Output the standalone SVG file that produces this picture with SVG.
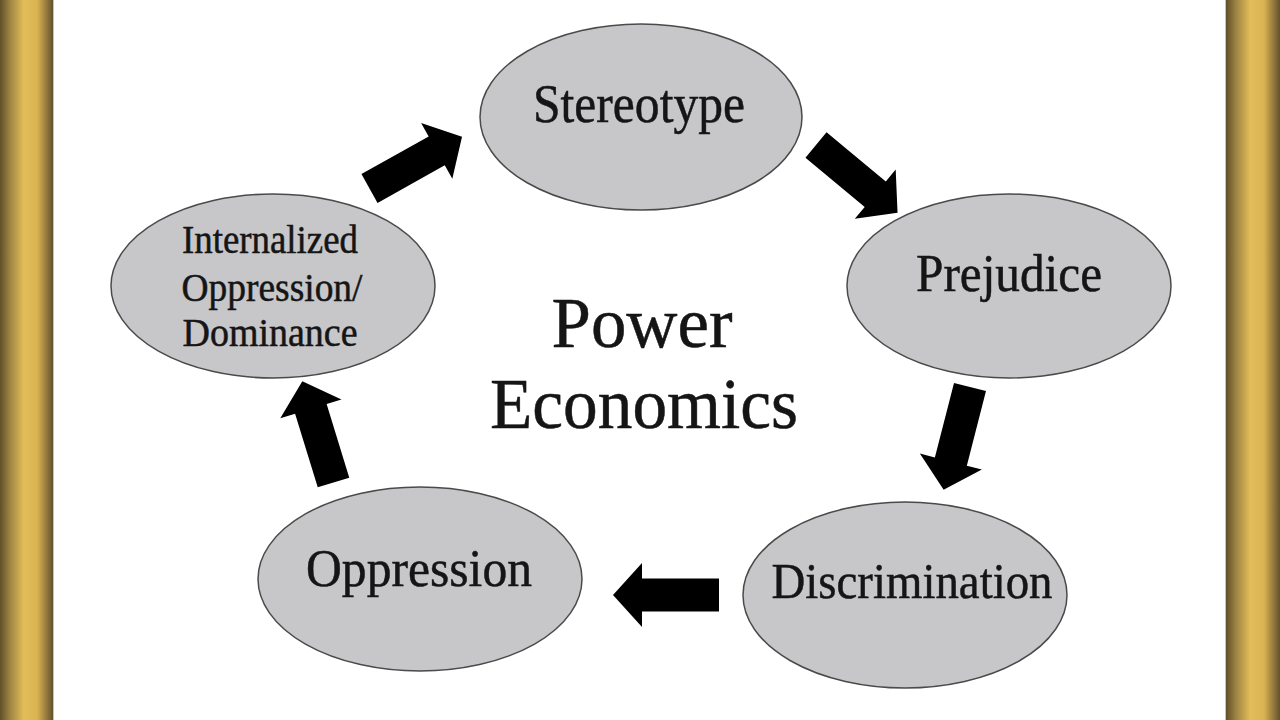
<svg xmlns="http://www.w3.org/2000/svg" width="1280" height="720" viewBox="0 0 1280 720">
<defs>
<linearGradient id="gold" x1="0" y1="0" x2="1" y2="0">
<stop offset="0" stop-color="#5f4f29"/>
<stop offset="0.18" stop-color="#9c8242"/>
<stop offset="0.45" stop-color="#e2bd58"/>
<stop offset="0.7" stop-color="#dbb452"/>
<stop offset="0.9" stop-color="#8c723a"/>
<stop offset="1" stop-color="#62522b"/>
</linearGradient>
<polygon id="arr" points="0,-16.5 77,-16.5 77,-32 106,0 77,32 77,16.5 0,16.5"/>
<style>
.node{fill:#c7c7c9;stroke:#4a4a4a;stroke-width:1.5}
.lbl{font-family:"Liberation Serif","Times New Roman",serif;fill:#151515;stroke:#151515;stroke-width:0.5;text-anchor:middle}
.arrow{fill:#000}
</style>
</defs>
<rect x="0" y="0" width="1280" height="720" fill="#ffffff"/>
<g id="frame">
<rect x="0" y="0" width="53" height="720" fill="url(#gold)"/>
<rect x="1226" y="0" width="54" height="720" fill="url(#gold)"/>
<line x1="53.5" y1="0" x2="53.5" y2="720" stroke="#c8c4b8" stroke-width="1"/>
<line x1="1225.5" y1="0" x2="1225.5" y2="720" stroke="#c8c4b8" stroke-width="1"/>
</g>
<g id="connectors" class="arrow">
<use href="#arr" transform="translate(369.5,188.5) rotate(-29.2)"/>
<use href="#arr" transform="translate(816,145) rotate(39.7)"/>
<use href="#arr" transform="translate(970,387) rotate(104.4)"/>
<use href="#arr" transform="translate(719,595) rotate(180)"/>
<use href="#arr" transform="translate(333.5,482.5) rotate(-107.1)"/>
</g>
<g id="stereotype">
<ellipse class="node" cx="641" cy="117" rx="161" ry="93"/>
<text class="lbl" x="639" y="122" font-size="54" textLength="212" lengthAdjust="spacingAndGlyphs">Stereotype</text>
</g>
<g id="prejudice">
<ellipse class="node" cx="1009" cy="286" rx="162" ry="92"/>
<text class="lbl" x="1009" y="291" font-size="53" textLength="186" lengthAdjust="spacingAndGlyphs">Prejudice</text>
</g>
<g id="discrimination">
<ellipse class="node" cx="905" cy="595" rx="162" ry="93"/>
<text class="lbl" x="912" y="598" font-size="51" textLength="281" lengthAdjust="spacingAndGlyphs">Discrimination</text>
</g>
<g id="oppression">
<ellipse class="node" cx="420" cy="579" rx="162" ry="92"/>
<text class="lbl" x="419" y="586" font-size="52" textLength="226" lengthAdjust="spacingAndGlyphs">Oppression</text>
</g>
<g id="internalized">
<ellipse class="node" cx="273" cy="286" rx="162" ry="92"/>
<text class="lbl" x="270" y="253" font-size="39" textLength="176" lengthAdjust="spacingAndGlyphs">Internalized</text>
<text class="lbl" x="272" y="301" font-size="39" textLength="181" lengthAdjust="spacingAndGlyphs">Oppression/</text>
<text class="lbl" x="270" y="346" font-size="39" textLength="175" lengthAdjust="spacingAndGlyphs">Dominance</text>
</g>
<g id="center">
<text class="lbl" x="642" y="347" font-size="72" textLength="181" lengthAdjust="spacingAndGlyphs">Power</text>
<text class="lbl" x="644" y="428" font-size="71" textLength="308" lengthAdjust="spacingAndGlyphs">Economics</text>
</g>
</svg>
